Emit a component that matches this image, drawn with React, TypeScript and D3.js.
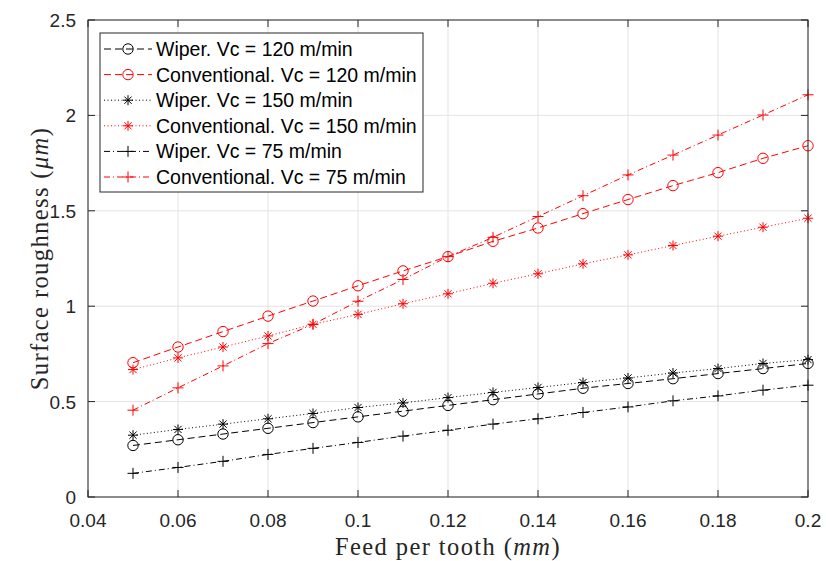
import React from "react";
import * as d3 from "d3";

const feed = [0.05, 0.06, 0.07, 0.08, 0.09, 0.1, 0.11, 0.12, 0.13, 0.14, 0.15, 0.16, 0.17, 0.18, 0.19, 0.2];

const wiper120 = [0.27, 0.30, 0.33, 0.36, 0.39, 0.42, 0.45, 0.48, 0.51, 0.54, 0.57, 0.595, 0.62, 0.647, 0.673, 0.70];
const conv120 = [0.704, 0.786, 0.867, 0.948, 1.027, 1.107, 1.185, 1.26, 1.34, 1.41, 1.485, 1.559, 1.632, 1.70, 1.775, 1.841];
const wiper150 = [0.324, 0.354, 0.382, 0.41, 0.438, 0.469, 0.493, 0.521, 0.548, 0.574, 0.60, 0.624, 0.65, 0.673, 0.70, 0.72];
const conv150 = [0.668, 0.729, 0.786, 0.844, 0.905, 0.957, 1.013, 1.065, 1.12, 1.17, 1.222, 1.269, 1.318, 1.367, 1.414, 1.461];
const wiper75 = [0.124, 0.155, 0.187, 0.223, 0.255, 0.286, 0.319, 0.35, 0.382, 0.41, 0.443, 0.472, 0.504, 0.53, 0.56, 0.586];
const conv75 = [0.455, 0.572, 0.687, 0.804, 0.905, 1.026, 1.14, 1.26, 1.361, 1.47, 1.579, 1.688, 1.792, 1.897, 2.002, 2.108];

const xTicks = [0.04, 0.06, 0.08, 0.1, 0.12, 0.14, 0.16, 0.18, 0.2];
const yTicks = [0, 0.5, 1, 1.5, 2, 2.5];

const seriesNames = [
  "Wiper. Vc = 120 m/min",
  "Conventional. Vc = 120 m/min",
  "Wiper. Vc = 150 m/min",
  "Conventional. Vc = 150 m/min",
  "Wiper. Vc = 75 m/min",
  "Conventional. Vc = 75 m/min",
];
const seriesValues = [wiper120, conv120, wiper150, conv150, wiper75, conv75];
const seriesColors = ["#000000", "#ff0000", "#000000", "#ff0000", "#000000", "#ff0000"];
const seriesMarkers = ["circle", "circle", "star", "star", "plus", "plus"];
const seriesDash = ["7,4", "7,4", "1,2.5", "1,2.5", "6,3,1,3", "6,3,1,3"];

const W = 826;
const H = 561;
const L = 88, R = 808, T = 20, B = 497;
const axisColor = "#262626";
const sans = "'Liberation Sans', Arial, sans-serif";
const serif = "'Liberation Serif', 'DejaVu Serif', serif";

function Marker({ type, x, y, color }: { type: string; x: number; y: number; color: string }) {
  if (type === "circle") {
    return <circle cx={x} cy={y} r={5.2} fill="none" stroke={color} strokeWidth={1} />;
  }
  if (type === "plus") {
    const s = 5.5;
    return (
      <path d={`M${x - s},${y}H${x + s}M${x},${y - s}V${y + s}`} stroke={color} strokeWidth={1} fill="none" />
    );
  }
  const s = 5;
  const d = s * 0.72;
  return (
    <path
      d={`M${x - s},${y}H${x + s}M${x},${y - s}V${y + s}M${x - d},${y - d}L${x + d},${y + d}M${x - d},${y + d}L${x + d},${y - d}`}
      stroke={color}
      strokeWidth={1}
      fill="none"
    />
  );
}

export default function App() {
  const x = d3.scaleLinear().domain([0.04, 0.2]).range([L, R]);
  const y = d3.scaleLinear().domain([0, 2.5]).range([B, T]);
  const line = d3
    .line<[number, number]>()
    .x((d) => x(d[0]))
    .y((d) => y(d[1]));

  const tick = 7;
  const legX = 100, legY = 33, legW = 323, legH = 159;
  const rowY = (i: number) => 49 + i * 25.6;

  return (
    <svg
      width={W}
      height={H}
      style={{ position: "absolute", left: 0, top: 0, display: "block", background: "#fff" }}
    >
      <rect x={0} y={0} width={W} height={H} fill="#fff" />
      {/* grid */}
      {xTicks.map((t, i) => (
        <line key={"gx" + i} x1={x(t)} x2={x(t)} y1={T} y2={B} stroke="#e3e3e3" strokeWidth={1} />
      ))}
      {yTicks.map((t, i) => (
        <line key={"gy" + i} x1={L} x2={R} y1={y(t)} y2={y(t)} stroke="#e3e3e3" strokeWidth={1} />
      ))}
      {/* series */}
      {seriesValues.map((vals, si) => {
        const pts = feed.map((f, i) => [f, vals[i]] as [number, number]);
        return (
          <g key={"s" + si}>
            <path
              d={line(pts) || ""}
              fill="none"
              stroke={seriesColors[si]}
              strokeWidth={1}
              strokeDasharray={seriesDash[si]}
            />
            {pts.map((p, i) => (
              <Marker key={i} type={seriesMarkers[si]} x={x(p[0])} y={y(p[1])} color={seriesColors[si]} />
            ))}
          </g>
        );
      })}
      {/* axes box */}
      <rect x={L} y={T} width={R - L} height={B - T} fill="none" stroke={axisColor} strokeWidth={1} />
      {xTicks.map((t, i) => (
        <g key={"tx" + i}>
          <line x1={x(t)} x2={x(t)} y1={B} y2={B - tick} stroke={axisColor} />
          <line x1={x(t)} x2={x(t)} y1={T} y2={T + tick} stroke={axisColor} />
          <text x={x(t)} y={527} textAnchor="middle" fontFamily={sans} fontSize={19} fill={axisColor}>
            {String(t)}
          </text>
        </g>
      ))}
      {yTicks.map((t, i) => (
        <g key={"ty" + i}>
          <line x1={L} x2={L + tick} y1={y(t)} y2={y(t)} stroke={axisColor} />
          <line x1={R} x2={R - tick} y1={y(t)} y2={y(t)} stroke={axisColor} />
          <text x={76} y={y(t) + 7} textAnchor="end" fontFamily={sans} fontSize={19} fill={axisColor}>
            {String(t)}
          </text>
        </g>
      ))}
      {/* axis labels */}
      <text
        x={(L + R) / 2}
        y={555}
        textAnchor="middle"
        fontFamily={serif}
        fontSize={24.5}
        letterSpacing={1.4}
        fill={axisColor}
      >
        Feed per tooth (<tspan fontStyle="italic">mm</tspan>)
      </text>
      <text
        transform={`translate(48,${(T + B) / 2}) rotate(-90)`}
        textAnchor="middle"
        fontFamily={serif}
        fontSize={24.5}
        letterSpacing={1.4}
        fill={axisColor}
      >
        Surface roughness (<tspan fontStyle="italic">μm</tspan>)
      </text>
      {/* legend */}
      <rect x={legX} y={legY} width={legW} height={legH} fill="#fff" stroke={axisColor} strokeWidth={1} />
      {seriesNames.map((n, i) => (
        <g key={"l" + i}>
          <line
            x1={104}
            x2={152}
            y1={rowY(i)}
            y2={rowY(i)}
            stroke={seriesColors[i]}
            strokeWidth={1}
            strokeDasharray={seriesDash[i]}
          />
          <Marker type={seriesMarkers[i]} x={128} y={rowY(i)} color={seriesColors[i]} />
          <text x={156} y={rowY(i) + 7} fontFamily={sans} fontSize={19.5} fill="#000">
            {n}
          </text>
        </g>
      ))}
    </svg>
  );
}
